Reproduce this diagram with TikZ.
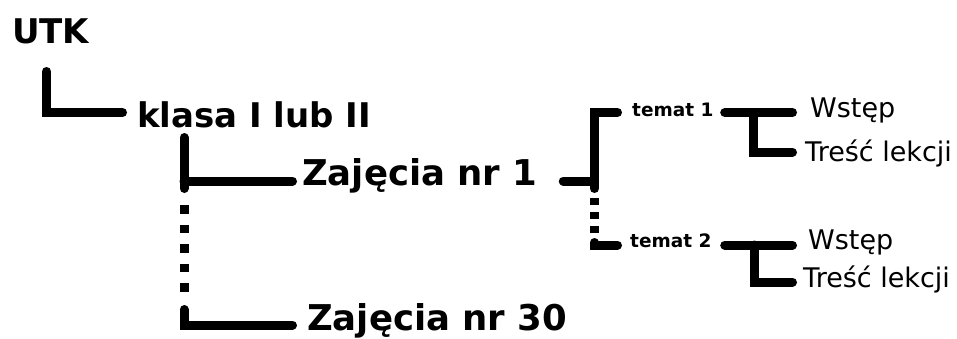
\documentclass[tikz,border=0pt]{standalone}
\usepackage{fontspec}
\setmainfont{DejaVu Sans}
\usepackage{tikz}
\usetikzlibrary{positioning}

\tikzset{
  branch/.style={line width=9pt,line cap=round,line join=miter},
  dots/.style={line width=9pt,line cap=butt,dash pattern=on 8.5pt off 11pt},
  smalldots/.style={line width=9pt,line cap=butt,dash pattern=on 7pt off 7pt},
  big/.style={anchor=base west,inner sep=0pt,font=\bfseries\fontsize{34}{40}\selectfont},
  bigger/.style={anchor=base west,inner sep=0pt,font=\bfseries\fontsize{35.5}{42}\selectfont},
  topic/.style={anchor=base west,inner sep=0pt,font=\bfseries\fontsize{18.5}{22}\selectfont},
  part/.style={anchor=base west,inner sep=0pt,font=\fontsize{27}{32}\selectfont}
}

\begin{document}
\begin{tikzpicture}[x=1pt,y=-1pt]
\useasboundingbox (0,0) rectangle (957,338);
\node at (12,43)[big](utk){UTK};
\node at (137,127)[big](klasa){klasa I lub II};
\node at (302,185)[bigger](zaj1){Zajęcia nr 1};
\node at (307,330)[bigger](zaj30){Zajęcia nr 30};
\node at (632,116)[topic](temat1){temat 1};
\node at (630,247)[topic](temat2){temat 2};
\node at (810,117)[part](wstep1){Wstęp};
\node at (805,161)[part](tresc1){Treść lekcji};
\node at (808,249)[part](wstep2){Wstęp};
\node at (803,287)[part](tresc2){Treść lekcji};

% UTK -> klasa
\coordinate (k1) at (46.5,71.5);
\draw[branch] (k1) |- ([shift={(-14.5pt,14.5pt)}]klasa.base west);

% klasa -> zajecia
\coordinate (k2) at (184,137.5);
\coordinate (k3) at (184,309.5);
\draw[branch] (k2) -- (184,188.5);
\draw[branch] (184,181) -- ([shift={(-9.5pt,4pt)}]zaj1.base west);
\draw[dots] (184,205) -- (184,293);
\draw[branch] (k3) |- ([shift={(-14.5pt,5pt)}]zaj30.base west);

% zajecia nr 1 -> tematy
\coordinate (t1) at (594.5,181);
\draw[branch] ([shift={(25.5pt,4pt)}]zaj1.base east) -- (t1);
\draw[branch] (594.5,188.5) |- ([shift={(-14.5pt,3.5pt)}]temat1.base west);
\draw[smalldots] (594.5,198) -- (594.5,233);
\draw[branch] (594.5,242.5) |- ([shift={(-12.5pt,2pt)}]temat2.base west);

% temat 1
\coordinate (s1) at (753,112.5);
\draw[branch] ([shift={(11pt,3.5pt)}]temat1.base east) -- ([shift={(-17.5pt,4.5pt)}]wstep1.base west);
\draw[branch] (s1) |- ([shift={(-12.5pt,9pt)}]tresc1.base west);

% temat 2
\coordinate (s2) at (754,245);
\draw[branch] ([shift={(13pt,2pt)}]temat2.base east) -- ([shift={(-15.5pt,4pt)}]wstep2.base west);
\draw[branch] (s2) |- ([shift={(-10.5pt,5pt)}]tresc2.base west);
\end{tikzpicture}
\end{document}
